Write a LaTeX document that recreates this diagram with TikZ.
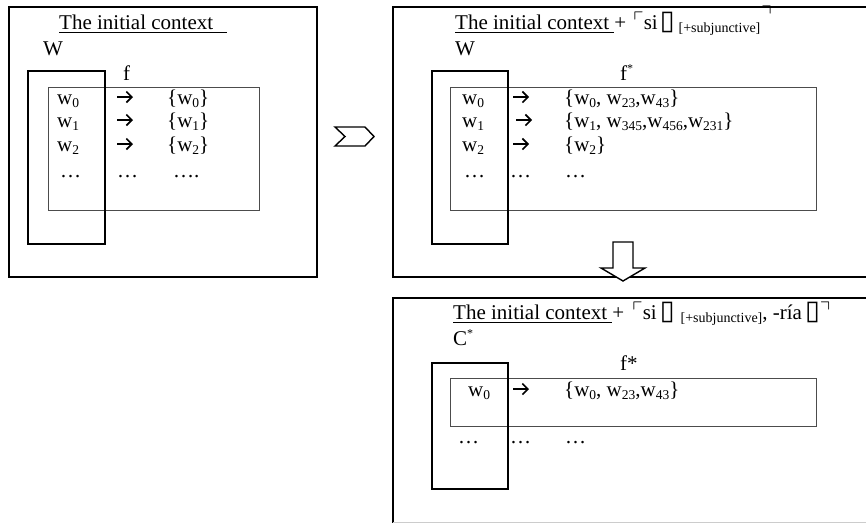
\documentclass[tikz,border=0pt]{standalone}
\usepackage{amssymb}
\usepackage{fontspec}
\setmainfont{Liberation Serif}
\newfontfamily\symfont{DejaVu Sans}
\usetikzlibrary{arrows.meta}

% lowered index, small raised star, small label, missing-glyph box
\newcommand\lsub[1]{\raisebox{-3pt}{\fontsize{13.5}{13.5}\selectfont #1}}
\newcommand\sstar{\raisebox{7.5pt}{\fontsize{12}{12}\selectfont *}}
\newcommand\featlab[1]{\raisebox{-3pt}{\fontsize{14}{14}\selectfont #1}}
\newcommand\tofu{{\symfont\fontsize{27}{27}\selectfont ▯}}
\newcommand\lcorn{\raisebox{3pt}{$\ulcorner$}}
\newcommand\rcornhi{\raisebox{8.5pt}{$\urcorner$}}
\newcommand\rcorn{\raisebox{3pt}{$\urcorner$}}
% heavier underline, set a little below the baseline
\newcommand\ulx[1]{\setbox0\hbox{#1}\rlap{\rule[-4pt]{\wd0}{1.5pt}}\box0}

\tikzset{
  outerbox/.style={draw=black, line width=1.5pt},
  domainbox/.style={draw=black, line width=1.8pt},
  tablebox/.style={draw=black!70, line width=0.9pt},
  blockarrow/.style={draw=black, fill=white, line width=1.4pt, line join=miter},
  maparrow/.style={draw=black, line width=1.6pt, -{Straight Barb[length=5.5pt,width=11pt,line width=1.6pt]}},
  txt/.style={anchor=base west, inner sep=0pt, font=\fontsize{21}{25}\selectfont},
}

\begin{document}
\begin{tikzpicture}[x=1pt,y=-1pt]
\useasboundingbox (0,0) rectangle (866,523);
\clip (0,0) rectangle (866,523);

% ---------- panel 1: the initial context ----------
\draw[outerbox] (9,7) rectangle (317,277);
\draw[tablebox] (48,87) rectangle (259,210);
\draw[domainbox] (28,71) rectangle (105,244);
\node[txt] (t1) at (59,29) {\ulx{The initial context\hspace{14pt}}};
\node[txt] (W1) at (43,55) {W};
\node[txt] (f1) at (123,80) {f};
\node[txt] (a0) at (57,104) {w\lsub{0}};
\node[txt] (a1) at (57,127) {w\lsub{1}};
\node[txt] (a2) at (57,151) {w\lsub{2}};
\node[txt] (a3) at (60,177) {…};
\node[txt] (b0) at (167,104) {\{w\lsub{0}\}};
\node[txt] (b1) at (167,127) {\{w\lsub{1}\}};
\node[txt] (b2) at (167,151) {\{w\lsub{2}\}};
\node[txt] (b3) at (117,177) {…};
\node[txt] (b4) at (173,177) {….};
\draw[maparrow] (a0.base west) ++(60,-7) -- ++(16,0);
\draw[maparrow] (a1.base west) ++(60,-7) -- ++(16,0);
\draw[maparrow] (a2.base west) ++(60,-7) -- ++(16,0);

% chevron between the panels
\draw[blockarrow] (335,127) -- (365,127) -- (374,136.5) -- (365,146) -- (335,146) -- (345,136.5) -- cycle;

% ---------- panel 2: after the si-clause ----------
\draw[outerbox] (393,7) rectangle (880,277);
\draw[tablebox] (450,87) rectangle (816,210);
\draw[domainbox] (432,71) rectangle (508,244);
\node[txt] (t2) at (455,29) {\ulx{The initial context }+\hspace{7pt}\lcorn si\hspace{2pt}\tofu\hspace{4pt}\featlab{[+subjunctive]}\hspace{1pt}\rcornhi};
\node[txt] (W2) at (455,55) {W};
\node[txt] (f2) at (620,80) {f\sstar};
\node[txt] (c0) at (462,104) {w\lsub{0}};
\node[txt] (c1) at (462,127) {w\lsub{1}};
\node[txt] (c2) at (462,151) {w\lsub{2}};
\node[txt] (c3) at (464,177) {…};
\node[txt] (d0) at (564,104) {\{w\lsub{0}, w\lsub{23},w\lsub{43}\}};
\node[txt] (d1) at (564,127) {\{w\lsub{1}, w\lsub{345},w\lsub{456},w\lsub{231}\}};
\node[txt] (d2) at (564,151) {\{w\lsub{2}\}};
\node[txt] (d3) at (510,177) {…};
\node[txt] (d4) at (565,177) {…};
\draw[maparrow] (c0.base west) ++(51,-7) -- ++(16,0);
\draw[maparrow] (c1.base west) ++(54,-7) -- ++(16,0);
\draw[maparrow] (c2.base west) ++(51,-7) -- ++(16,0);

% ---------- panel 3: after the si-clause and -ría ----------
\draw[outerbox] (880,298) -- (393,298) -- (393,523);
\draw[draw=black!20, line width=0.8pt] (393,522) -- (866,522);
\draw[tablebox] (450,378) rectangle (816,426);
\draw[domainbox] (432,363) rectangle (508,489);
\node[txt] (t3) at (453,319) {\ulx{The initial context }+\hspace{8pt}\lcorn si\hspace{3pt}\tofu\hspace{6pt}\featlab{[+subjunctive]}, -ría\hspace{3pt}\tofu\rcorn};
\node[txt] (C3) at (453,345) {C\sstar};
\node[txt] (f3) at (620,370) {f*};
\node[txt] (e0) at (468,396) {w\lsub{0}};
\node[txt] (g0) at (564,396) {\{w\lsub{0}, w\lsub{23},w\lsub{43}\}};
\node[txt] (e1) at (458,443) {…};
\node[txt] (g1) at (510,443) {…};
\node[txt] (g2) at (565,443) {…};
\draw[maparrow] (e0.base west) ++(45,-7) -- ++(16,0);

% arrow from panel 2 down to panel 3
\draw[blockarrow] (613,242) -- (633,242) -- (633,268) -- (645,268) -- (623,281) -- (601,268) -- (613,268) -- cycle;
\end{tikzpicture}
\end{document}
